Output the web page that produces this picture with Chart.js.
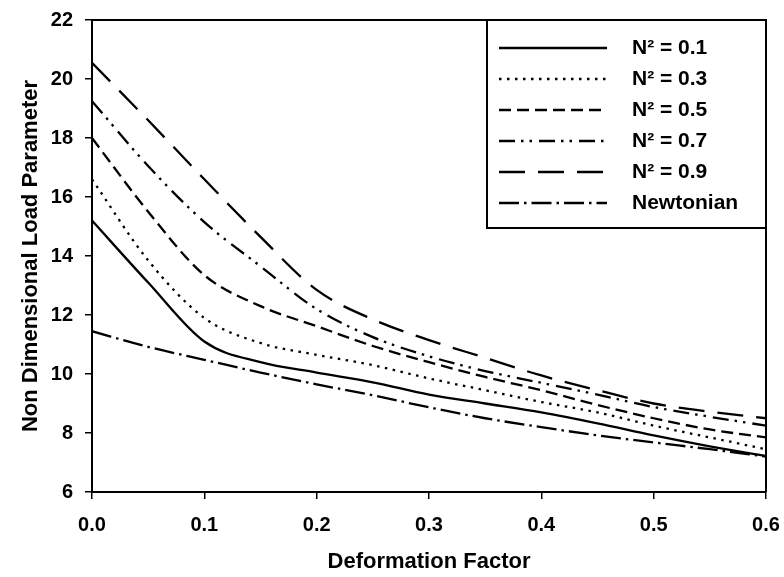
<!DOCTYPE html>
<html>
<head>
<meta charset="utf-8">
<script src="https://cdn.jsdelivr.net/npm/chart.js@4/dist/chart.umd.min.js"></script>
<style>
  html, body { margin: 0; padding: 0; background: #fff; }
  #wrap { width: 784px; height: 577px; }
</style>
</head>
<body>
<div id="wrap"><canvas id="loadChart" width="784" height="577"></canvas></div>
<script>
// Deformation factor samples along the x axis
const deformation = [0, 0.05, 0.1, 0.15, 0.2, 0.25, 0.3, 0.35, 0.4, 0.45, 0.5, 0.55, 0.6];

// Load parameter for each couple stress value
const loadN01 = [15.2, 13.1, 11.1, 10.4, 10.05, 9.72, 9.3, 9.0, 8.7, 8.33, 7.92, 7.55, 7.22];
const loadN03 = [16.6, 13.85, 11.9, 11.05, 10.65, 10.3, 9.85, 9.45, 9.05, 8.7, 8.25, 7.85, 7.45];
const loadN05 = [18.0, 15.5, 13.35, 12.3, 11.62, 10.95, 10.4, 9.9, 9.45, 8.95, 8.5, 8.12, 7.85];
const loadN07 = [19.25, 17.05, 15.15, 13.65, 12.2, 11.25, 10.6, 10.1, 9.7, 9.3, 8.88, 8.55, 8.25];
const loadN09 = [20.55, 18.6, 16.6, 14.65, 12.85, 11.85, 11.15, 10.55, 9.95, 9.45, 9.0, 8.72, 8.5];
const loadNewtonian = [11.45, 10.92, 10.48, 10.05, 9.65, 9.28, 8.87, 8.5, 8.2, 7.92, 7.68, 7.45, 7.2];

const seriesLabels = ['N\u00B2 = 0.1', 'N\u00B2 = 0.3', 'N\u00B2 = 0.5', 'N\u00B2 = 0.7', 'N\u00B2 = 0.9', 'Newtonian'];
const yTicks = [6, 8, 10, 12, 14, 16, 18, 20, 22];
const xTicks = [0, 0.1, 0.2, 0.3, 0.4, 0.5, 0.6];

const FONT = '"Liberation Sans", Arial, sans-serif';

const toPoints = (ys) => ys.map((y, i) => ({ x: deformation[i], y: y }));

function makeSet(label, values, dash) {
    return {
        label: label,
        data: toPoints(values),
        borderColor: '#000',
        backgroundColor: '#000',
        borderWidth: 2.3,
        borderDash: dash,
        borderCapStyle: 'butt',
        pointRadius: 0,
        fill: false,
        cubicInterpolationMode: 'monotone'
    };
}

// Box round the plot area (top and right sides)
const frame = {
    id: 'frame',
    afterDraw(chart) {
        const { ctx, chartArea: a } = chart;
        ctx.save();
        ctx.strokeStyle = '#000';
        ctx.lineWidth = 2;
        ctx.beginPath();
        ctx.moveTo(a.left, a.top);
        ctx.lineTo(a.right, a.top);
        ctx.lineTo(a.right, a.bottom);
        ctx.stroke();
        ctx.restore();
    }
};

// Legend inside the top right corner, with a border
const boxedLegend = {
    id: 'boxedLegend',
    afterDraw(chart) {
        const { ctx, chartArea: a } = chart;
        const left = 487, top = a.top, right = a.right, bottom = 228;
        ctx.save();
        ctx.fillStyle = '#fff';
        ctx.fillRect(left, top, right - left, bottom - top);
        ctx.strokeStyle = '#000';
        ctx.lineWidth = 2;
        ctx.strokeRect(left, top, right - left, bottom - top);
        ctx.font = 'bold 21px ' + FONT;
        ctx.textBaseline = 'middle';
        ctx.textAlign = 'left';
        chart.data.datasets.forEach((ds, i) => {
            const y = 48 + i * 31;
            ctx.setLineDash(ds.borderDash || []);
            ctx.lineWidth = ds.borderWidth;
            ctx.strokeStyle = ds.borderColor;
            ctx.beginPath();
            ctx.moveTo(499, y);
            ctx.lineTo(607, y);
            ctx.stroke();
            ctx.setLineDash([]);
            ctx.fillStyle = '#000';
            ctx.fillText(ds.label, 632, y);
        });
        ctx.restore();
    }
};

new Chart(document.getElementById('loadChart'), {
    type: 'line',
    data: {
        datasets: [
            makeSet(seriesLabels[0], loadN01, []),
            makeSet(seriesLabels[1], loadN03, [2.5, 5.5]),
            makeSet(seriesLabels[2], loadN05, [12, 6]),
            makeSet(seriesLabels[3], loadN07, [16, 6, 2.5, 6, 2.5, 7]),
            makeSet(seriesLabels[4], loadN09, [26, 13]),
            makeSet(seriesLabels[5], loadNewtonian, [20, 5, 2.5, 5])
        ]
    },
    options: {
        responsive: false,
        animation: false,
        layout: { padding: { left: 0, top: 20, right: 18, bottom: 0 } },
        plugins: {
            legend: { display: false },
            tooltip: { enabled: false }
        },
        scales: {
            x: {
                type: 'linear',
                min: 0,
                max: 0.6,
                afterBuildTicks: (s) => { s.ticks = xTicks.map(v => ({ value: v })); },
                afterFit: (s) => { s.height = 85; s.paddingLeft = 0; s.paddingRight = 0; },
                grid: { drawOnChartArea: false, drawTicks: true, tickLength: 7, color: '#000', lineWidth: 1.5 },
                border: { color: '#000', width: 2 },
                ticks: {
                    color: '#000',
                    padding: 14,
                    maxRotation: 0,
                    font: { family: FONT, size: 20, weight: 'bold' },
                    callback: (v) => Number(v).toFixed(1)
                },
                title: {
                    display: true,
                    text: 'Deformation Factor',
                    color: '#000',
                    font: { family: FONT, size: 22, weight: 'bold' },
                    padding: { top: 0, bottom: 2 }
                }
            },
            y: {
                min: 6,
                max: 22,
                afterBuildTicks: (s) => { s.ticks = yTicks.map(v => ({ value: v })); },
                afterFit: (s) => { s.width = 92; s.paddingTop = 0; s.paddingBottom = 0; },
                grid: { drawOnChartArea: false, drawTicks: true, tickLength: 7, color: '#000', lineWidth: 1.5 },
                border: { color: '#000', width: 2 },
                ticks: {
                    color: '#000',
                    padding: 12,
                    font: { family: FONT, size: 20, weight: 'bold' }
                },
                title: {
                    display: true,
                    text: 'Non Dimensional Load Parameter',
                    color: '#000',
                    font: { family: FONT, size: 22, weight: 'bold' },
                    padding: { top: 18, bottom: 0 }
                }
            }
        }
    },
    plugins: [frame, boxedLegend]
});
</script>
</body>
</html>
